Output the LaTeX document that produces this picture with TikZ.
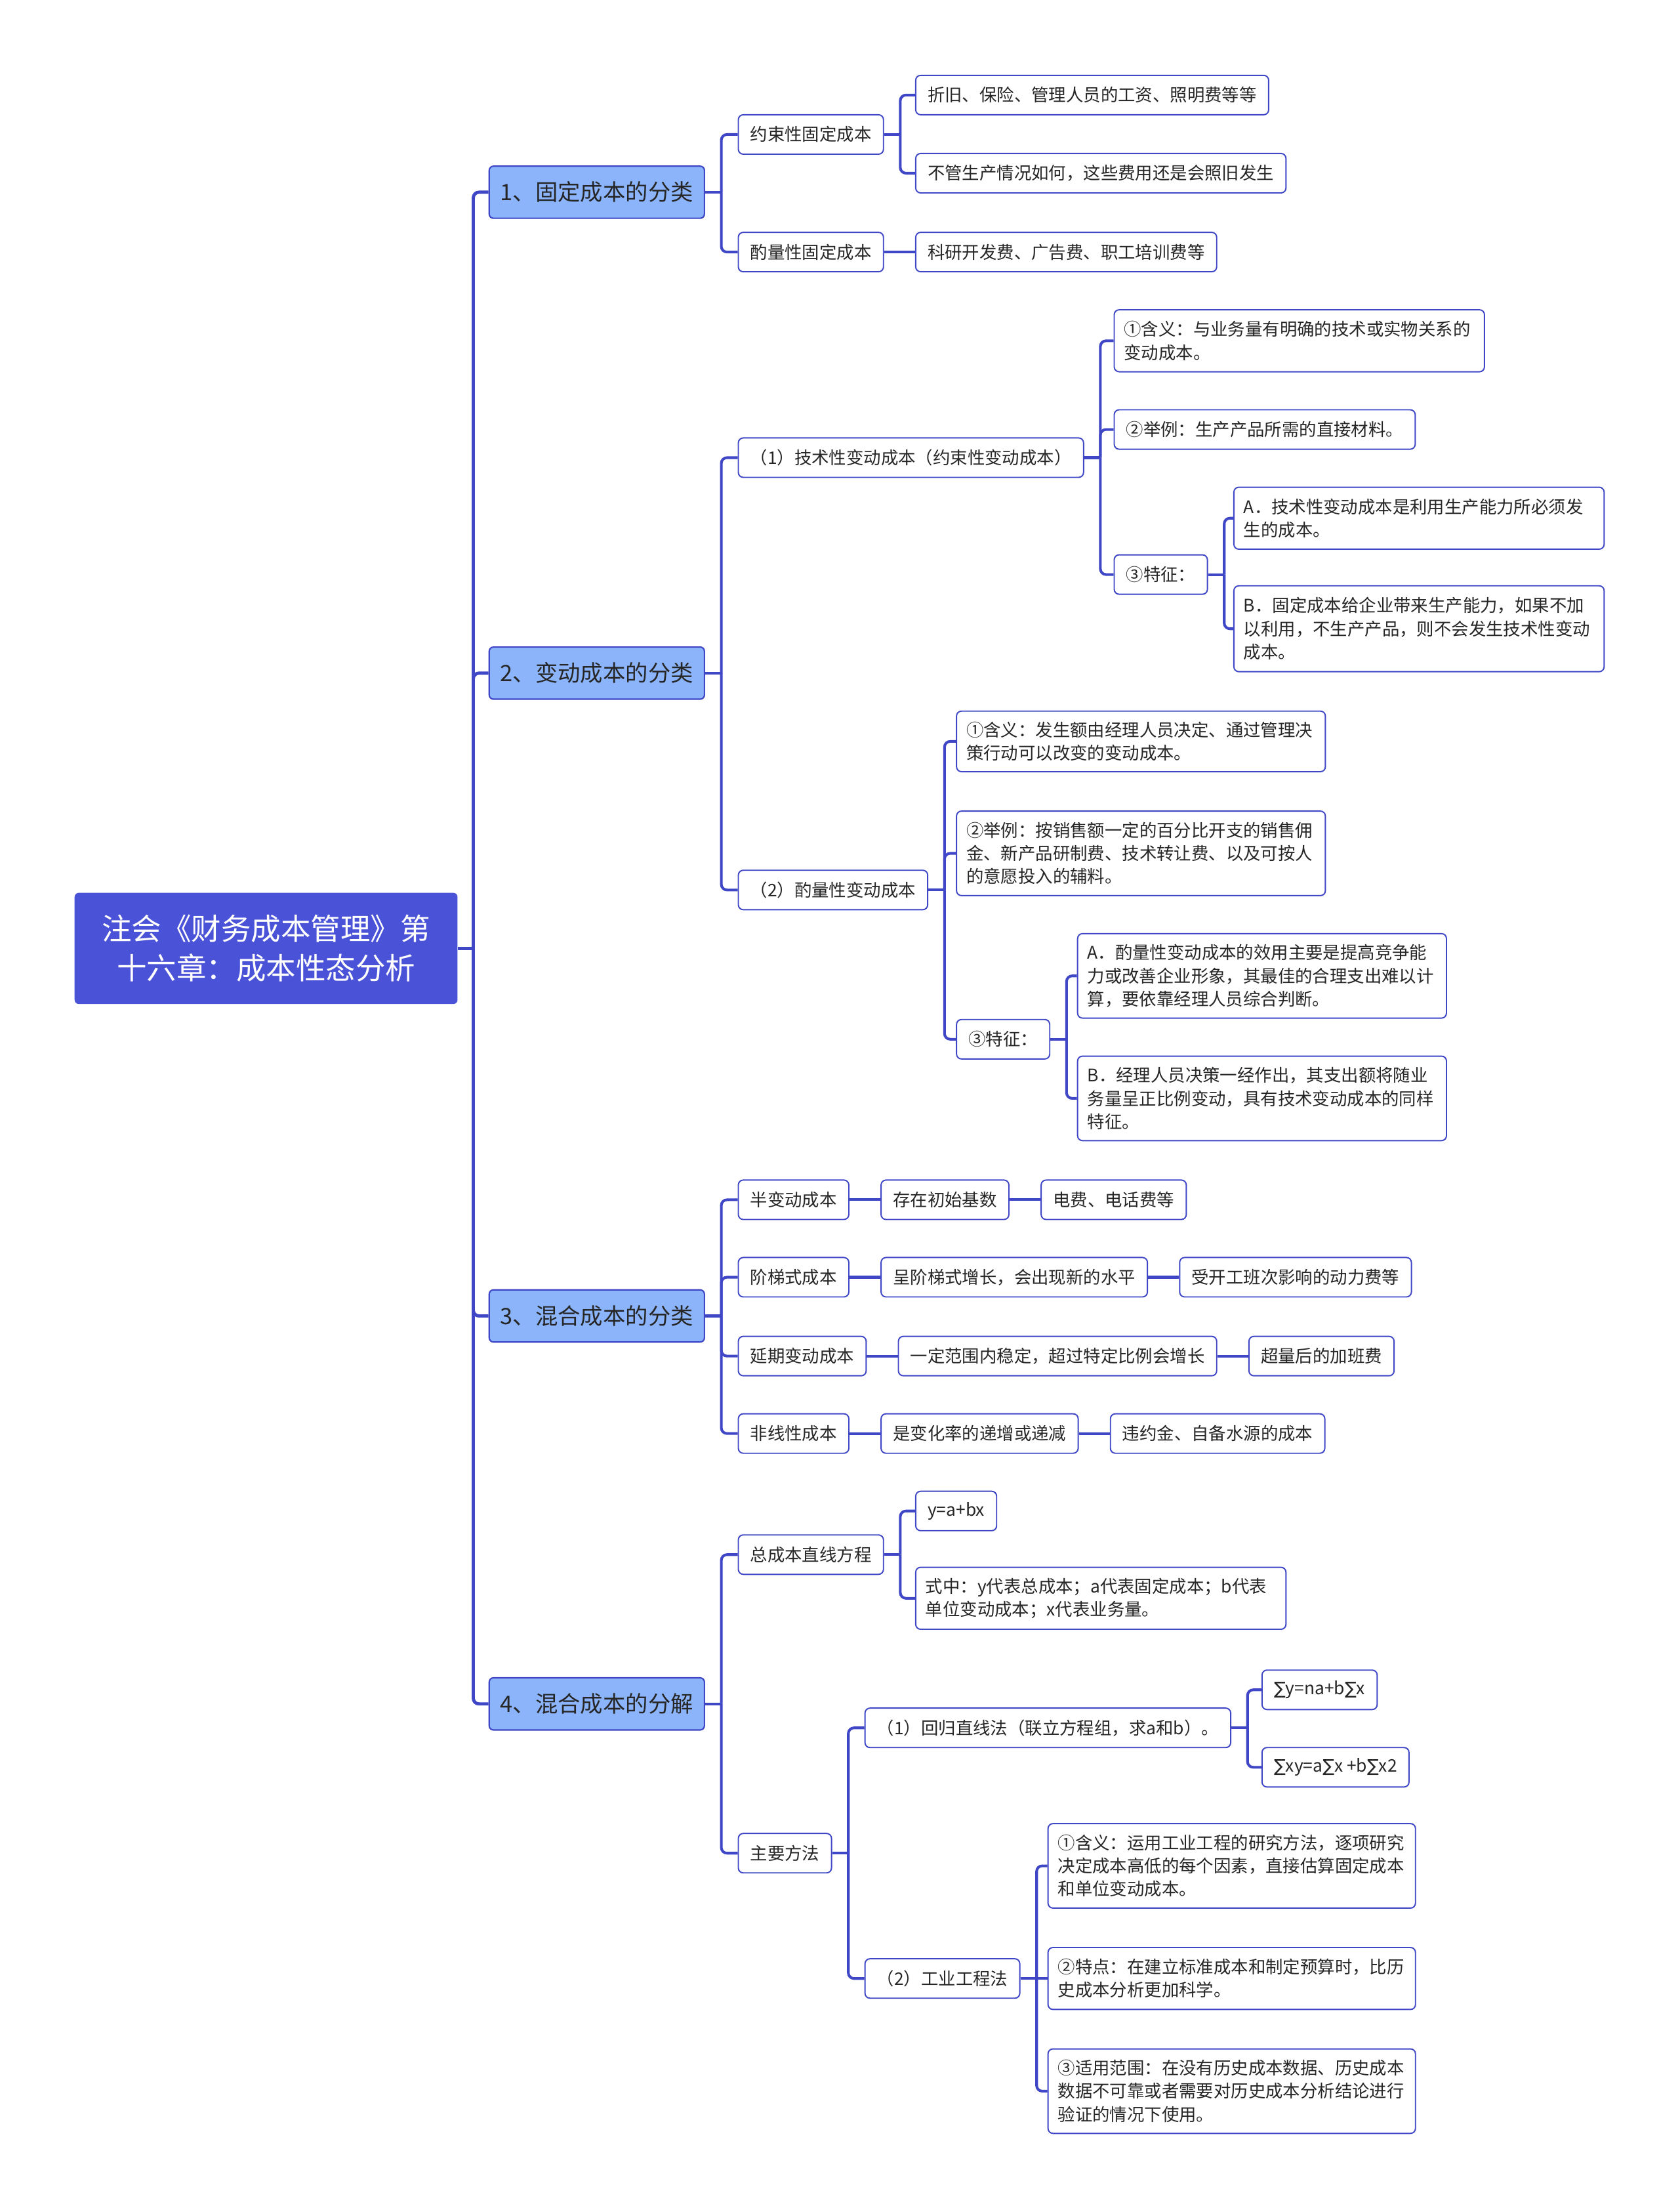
\documentclass[tikz,border=0pt]{standalone}
\usepackage{fontspec}
\setmainfont{Noto Sans CJK SC}
\newfontfamily\sumfont{DejaVu Sans}
\usetikzlibrary{positioning}
\definecolor{MapNavy}{HTML}{3F47C6}
\definecolor{MapRoot}{HTML}{4A52D8}
\definecolor{MapTopic}{HTML}{8CB4FB}
\definecolor{MapInk}{HTML}{262626}

\tikzset{
  rootbox/.style={fill=MapRoot,rounded corners=3pt,text=white,font=\fontsize{21.2}{28}\selectfont,align=center,minimum width=272pt,minimum height=79pt},
  topicbox/.style={fill=MapTopic,draw=MapNavy,line width=1pt,rounded corners=3pt,text=MapInk,font=\fontsize{16}{20}\selectfont,minimum height=37pt,inner xsep=8pt,anchor=west},
  leafbox/.style={fill=white,draw=MapNavy,line width=0.9pt,rounded corners=3.5pt,text=MapInk,font=\fontsize{12.3}{16.5}\selectfont,minimum height=28pt,inner xsep=8.5pt,anchor=west,align=left},
  notebox/.style 2 args={leafbox,inner xsep=7pt,text width=#1,minimum height=#2},
  mainlink/.style={draw=MapNavy,line width=2.3pt,rounded corners=4pt},
  link/.style={draw=MapNavy,line width=1.9pt,rounded corners=4pt},
}

\begin{document}
\begin{tikzpicture}[x=1pt,y=-1pt,node distance=22pt]
  \useasboundingbox (0,0) rectangle (1193,1568);
  \node[rootbox] (root) at (189,673.5) {注会《财务成本管理》第\\十六章：成本性态分析};

  % topics
  \node[topicbox] (f) at (347,136.5) {1、固定成本的分类};
  \node[topicbox] (v) at (347,478) {2、变动成本的分类};
  \node[topicbox] (m) at (347,934.5) {3、混合成本的分类};
  \node[topicbox] (d) at (347,1210) {4、混合成本的分解};

  % fixed cost
  \node[leafbox] (f1) at (524,95.5) {约束性固定成本};
  \node[leafbox] (f2) at (524,179) {酌量性固定成本};
  \node[leafbox] (f1a) at (650,67.5) {折旧、保险、管理人员的工资、照明费等等};
  \node[leafbox] (f1b) at (650,123) {不管生产情况如何，这些费用还是会照旧发生};
  \node[leafbox] (f2a) at (650,179) {科研开发费、广告费、职工培训费等};

  % variable cost
  \node[leafbox] (v1) at (524,325) {（1）技术性变动成本（约束性变动成本）};
  \node[notebox={249pt}{44pt}] (v1a) at (791,242) {①含义：与业务量有明确的技术或实物关系的\\变动成本。};
  \node[leafbox] (v1b) at (791,305) {②举例：生产产品所需的直接材料。};
  \node[leafbox] (v1c) at (791,408) {③特征：};
  \node[notebox={249pt}{44pt}] (v1c1) at (876,368) {A．技术性变动成本是利用生产能力所必须发\\生的成本。};
  \node[notebox={249pt}{61pt}] (v1c2) at (876,446.5) {B．固定成本给企业带来生产能力，如果不加\\以利用，不生产产品，则不会发生技术性变动\\成本。};
  \node[leafbox] (v2) at (524,632) {（2）酌量性变动成本};
  \node[notebox={248pt}{43pt}] (v2a) at (679,526.5) {①含义：发生额由经理人员决定、通过管理决\\策行动可以改变的变动成本。};
  \node[notebox={248pt}{60pt}] (v2b) at (679,606) {②举例：按销售额一定的百分比开支的销售佣\\金、新产品研制费、技术转让费、以及可按人\\的意愿投入的辅料。};
  \node[leafbox] (v2c) at (679,738) {③特征：};
  \node[notebox={248pt}{60pt}] (v2c1) at (765,693) {A．酌量性变动成本的效用主要是提高竞争能\\力或改善企业形象，其最佳的合理支出难以计\\算，要依靠经理人员综合判断。};
  \node[notebox={248pt}{60pt}] (v2c2) at (765,780) {B．经理人员决策一经作出，其支出额将随业\\务量呈正比例变动，具有技术变动成本的同样\\特征。};

  % mixed cost, three in a row
  \foreach \n/\y/\a/\b/\c in {1/852/半变动成本/存在初始基数/电费、电话费等,2/907/阶梯式成本/呈阶梯式增长，会出现新的水平/受开工班次影响的动力费等,3/963/延期变动成本/一定范围内稳定，超过特定比例会增长/超量后的加班费,4/1018/非线性成本/是变化率的递增或递减/违约金、自备水源的成本}{
    \node[leafbox] (m\n) at (524,\y) {\a};
    \node[leafbox,right=of m\n] (m\n-a) {\b};
    \node[leafbox,right=of m\n-a] (m\n-b) {\c};
    \draw[link] (m\n.east) -- (m\n-a.west);
    \draw[link] (m\n-a.east) -- (m\n-b.west);
  }

  % decomposition
  \node[leafbox] (d1) at (524,1104) {总成本直线方程};
  \node[leafbox] (d1a) at (650,1073) {y=a+bx};
  \node[notebox={249pt}{44pt}] (d1b) at (650,1135) {式中：y代表总成本；a代表固定成本；b代表\\单位变动成本；x代表业务量。};
  \node[leafbox] (d2) at (524,1316) {主要方法};
  \node[leafbox] (d2a) at (614,1227) {（1）回归直线法（联立方程组，求a和b）。};
  \node[leafbox] (d2a1) at (896,1200) {{\sumfont ∑}y=na+b{\sumfont ∑}x};
  \node[leafbox] (d2a2) at (896,1255) {{\sumfont ∑}xy=a{\sumfont ∑}x +b{\sumfont ∑}x2};
  \node[leafbox] (d2b) at (614,1405) {（2）工业工程法};
  \node[notebox={247pt}{60pt}] (d2b1) at (744,1325) {①含义：运用工业工程的研究方法，逐项研究\\决定成本高低的每个因素，直接估算固定成本\\和单位变动成本。};
  \node[notebox={247pt}{44pt}] (d2b2) at (744,1405) {②特点：在建立标准成本和制定预算时，比历\\史成本分析更加科学。};
  \node[notebox={247pt}{60pt}] (d2b3) at (744,1485) {③适用范围：在没有历史成本数据、历史成本\\数据不可靠或者需要对历史成本分析结论进行\\验证的情况下使用。};

  % connectors
  \draw[mainlink] (root.east) -- ++(11,0) coordinate (root-j);
  \foreach \c in {f,v,m,d} \draw[mainlink] (root-j) |- (\c.west);
  \foreach \p/\kids in {f/{f1,f2},f1/{f1a,f1b},v/{v1,v2},v1/{v1a,v1b,v1c},v1c/{v1c1,v1c2},v2/{v2a,v2b,v2c},v2c/{v2c1,v2c2},m/{m1,m2,m3,m4},d/{d1,d2},d1/{d1a,d1b},d2/{d2a,d2b},d2a/{d2a1,d2a2},d2b/{d2b1,d2b3}}{
    \draw[link] (\p.east) -- ++(11.5,0) coordinate (\p-j);
    \foreach \c in \kids \draw[link] (\p-j) |- (\c.west);
  }
  \draw[link] (f2.east) -- (f2a.west);
  \draw[link] (d2b.east) -- (d2b2.west);
\end{tikzpicture}
\end{document}
